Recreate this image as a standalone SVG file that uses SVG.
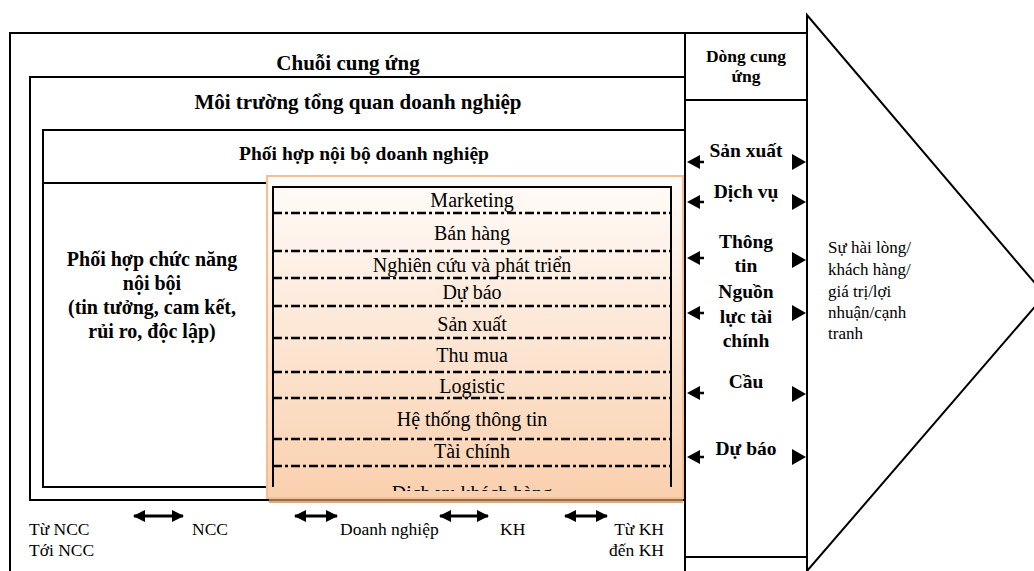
<svg xmlns="http://www.w3.org/2000/svg" width="1034" height="571" viewBox="0 0 1034 571">
<defs>
<style>
.box{fill:none;stroke:#000;stroke-width:2}
.ln{fill:none;stroke:#000;stroke-width:2}
.t{font-family:"Liberation Serif","Times New Roman",serif;fill:#000}
.b{font-weight:bold}
.c{text-anchor:middle}
.e{text-anchor:end}
.dd{fill:none;stroke:#000;stroke-width:2.5;stroke-dasharray:9 3 3 3}
.row{font-size:20px}
.col{font-size:19.5px}
.bot{font-size:17.5px}
.arr{fill:none;stroke:#000;stroke-width:3;marker-start:url(#ah);marker-end:url(#ah)}
</style>
<linearGradient id="og" x1="0" y1="0" x2="0" y2="1">
<stop offset="0" stop-color="#FFFCFA"/>
<stop offset="1" stop-color="#FAD0AE"/>
</linearGradient>
<clipPath id="clipLast"><rect x="273" y="470" width="398" height="21"/></clipPath>
<marker id="ah" viewBox="0 0 12 12" refX="11" refY="6" markerWidth="13" markerHeight="12" markerUnits="userSpaceOnUse" orient="auto-start-reverse">
<path d="M0,0 L12,6 L0,12 Z" fill="#000"/>
</marker>
<path id="la" d="M0,0 L13,-7 L13,7 Z M12,-1.2 H17 V1.2 H12 Z" fill="#000"/>
<path id="ra" d="M0,0 L-14,-8 L-14,8 Z" fill="#000"/>
</defs>
<rect width="1034" height="571" fill="#fff"/>

<g id="supply-chain">
<path class="ln" d="M10,580 V33 H807"/>
<text class="t b c" x="348" y="70" font-size="21">Chuỗi cung ứng</text>
</g>

<g id="business-environment">
<path class="ln" d="M685,77 H30 V500 H685"/>
<text class="t b c" x="358" y="109" font-size="21">Môi trường tổng quan doanh nghiệp</text>
</g>

<g id="internal-coordination">
<path class="ln" d="M685,130 H43 V487 H685 M43,183 H685"/>
<text class="t b c" x="364" y="160" font-size="19.5">Phối hợp nội bộ doanh nghiệp</text>
</g>

<g id="functional-coordination">
<text class="t b c" x="152" y="266" font-size="20">Phối hợp chức năng</text>
<text class="t b c" x="152" y="290" font-size="20">nội bội</text>
<text class="t b c" x="152" y="314" font-size="20">(tin tưởng, cam kết,</text>
<text class="t b c" x="152" y="338" font-size="20">rủi ro, độc lập)</text>
</g>

<g id="functions">
<rect x="269" y="499" width="414" height="4" fill="#C98F66" opacity="0.75"/>
<rect x="267" y="176" width="416" height="322" fill="url(#og)" stroke="#F6BE93" stroke-width="2"/>
<path class="ln" d="M273,487 V187 H671 V487"/>
<g class="dd">
<path d="M273,213 H671"/>
<path d="M273,251 H671"/>
<path d="M273,278 H671"/>
<path d="M273,306 H671"/>
<path d="M273,338 H671"/>
<path d="M273,372 H671"/>
<path d="M273,398 H671"/>
<path d="M273,439 H671"/>
<path d="M273,466 H671"/>
</g>
<text class="t c row" x="472" y="207">Marketing</text>
<text class="t c row" x="472" y="240">Bán hàng</text>
<text class="t c row" x="472" y="272">Nghiên cứu và phát triển</text>
<text class="t c row" x="472" y="299">Dự báo</text>
<text class="t c row" x="472" y="331">Sản xuất</text>
<text class="t c row" x="472" y="362">Thu mua</text>
<text class="t c row" x="472" y="393">Logistic</text>
<text class="t c row" x="472" y="426">Hệ thống thông tin</text>
<text class="t c row" x="472" y="458">Tài chính</text>
<text class="t c row" x="472" y="500" clip-path="url(#clipLast)">Dịch vụ khách hàng</text>
</g>

<g id="supply-flow">
<path class="ln" d="M685,33 V580 M685,100 H807 M685,557 H807" stroke-width="2.5"/>
<text class="t b c" x="746" y="62" font-size="17.5">Dòng cung</text>
<text class="t b c" x="746" y="82" font-size="17.5">ứng</text>
<text class="t b c col" x="746" y="157">Sản xuất</text>
<text class="t b c col" x="746" y="198">Dịch vụ</text>
<text class="t b c col" x="746" y="248">Thông</text>
<text class="t b c col" x="746" y="272">tin</text>
<text class="t b c col" x="746" y="298">Nguồn</text>
<text class="t b c col" x="746" y="323">lực tài</text>
<text class="t b c col" x="746" y="347">chính</text>
<text class="t b c col" x="746" y="388">Cầu</text>
<text class="t b c col" x="746" y="455">Dự báo</text>
</g>

<g id="value-arrow">
<path class="ln" d="M807,580 V15 L1045,295 L807,571" stroke-width="2.5"/>
<text class="t" x="828" y="253" font-size="17">Sự hài lòng/</text>
<text class="t" x="828" y="275" font-size="17">khách hàng/</text>
<text class="t" x="828" y="297" font-size="17">giá trị/lợi</text>
<text class="t" x="828" y="318" font-size="17">nhuận/cạnh</text>
<text class="t" x="828" y="339" font-size="17">tranh</text>
</g>

<g id="flow-labels">
<text class="t bot" x="29" y="535">Từ NCC</text>
<text class="t bot" x="29" y="556">Tới NCC</text>
<text class="t bot" x="192" y="535">NCC</text>
<text class="t bot" x="340" y="535">Doanh nghiệp</text>
<text class="t bot" x="500" y="535">KH</text>
<text class="t bot e" x="664" y="535">Từ KH</text>
<text class="t bot e" x="664" y="556">đến KH</text>
</g>

<g id="connectors">
<line class="arr" x1="134" y1="516" x2="183" y2="516"/>
<line class="arr" x1="295" y1="516" x2="337" y2="516"/>
<line class="arr" x1="440" y1="516" x2="488" y2="516"/>
<line class="arr" x1="565" y1="516" x2="607" y2="516"/>
<use href="#la" x="687" y="162"/>
<use href="#la" x="687" y="202"/>
<use href="#la" x="687" y="258"/>
<use href="#la" x="687" y="313"/>
<use href="#la" x="687" y="393"/>
<use href="#la" x="687" y="457"/>
<use href="#ra" x="806" y="162"/>
<use href="#ra" x="806" y="202"/>
<use href="#ra" x="806" y="260"/>
<use href="#ra" x="806" y="313"/>
<use href="#ra" x="806" y="394"/>
<use href="#ra" x="806" y="457"/>
</g>
</svg>
